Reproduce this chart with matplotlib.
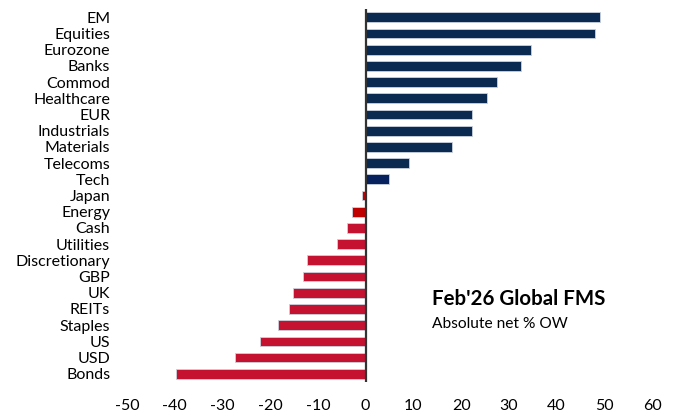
import matplotlib
matplotlib.use("Agg")
import matplotlib.pyplot as plt

categories = ["EM", "Equities", "Eurozone", "Banks", "Commod", "Healthcare", "EUR",
              "Industrials", "Materials", "Telecoms", "Tech", "Japan", "Energy", "Cash",
              "Utilities", "Discretionary", "GBP", "UK", "REITs", "Staples", "US", "USD", "Bonds"]
values = [49, 48, 34.6, 32.5, 27.5, 25.4, 22.3, 22.3, 18.2, 9.1, 5.0, -0.8, -2.9, -4.0,
          -5.9, -12.2, -13.1, -15.2, -16.1, -18.3, -22.2, -27.3, -39.7]
xticks = [-50, -40, -30, -20, -10, 0, 10, 20, 30, 40, 50, 60]

colors = []
for c, v in zip(categories, values):
    if c == "Tech":
        colors.append("#06215E")
    elif c in ("Japan", "Energy"):
        colors.append("#C00000")
    elif v >= 0:
        colors.append("#0B2A52")
    else:
        colors.append("#C41230")

plt.rcParams['font.family'] = ['Lato', 'DejaVu Sans']

fig = plt.figure(figsize=(6.75, 4.16), dpi=100)
ax = fig.add_axes([0.188, 0.082, 0.778, 0.896])

y = list(range(len(categories)))
ax.barh(y, values, height=0.6, color=colors, edgecolor="#C9D2DE", linewidth=0.6, zorder=2)
ax.set_ylim(len(categories) - 0.5, -0.5)
ax.set_xlim(-50, 60)
ax.set_xticks(xticks)
ax.set_xticklabels([str(t) for t in xticks], fontsize=11.5)
ax.set_yticks(y)
ax.set_yticklabels(categories, fontsize=11.5)
ax.tick_params(axis='both', length=0, colors="#000000")
ax.tick_params(axis='x', pad=12)
ax.tick_params(axis='y', pad=12)
for s in ax.spines.values():
    s.set_visible(False)
ax.axvline(0, color="#333333", linewidth=1.6, zorder=3)

ax.text(14, 17.4, "Feb'26 Global FMS", fontsize=14.8, fontweight='bold', va='center', ha='left')
ax.text(14, 18.9, "Absolute net % OW", fontsize=11.2, va='center', ha='left')

fig.savefig("out.png", dpi=100)
